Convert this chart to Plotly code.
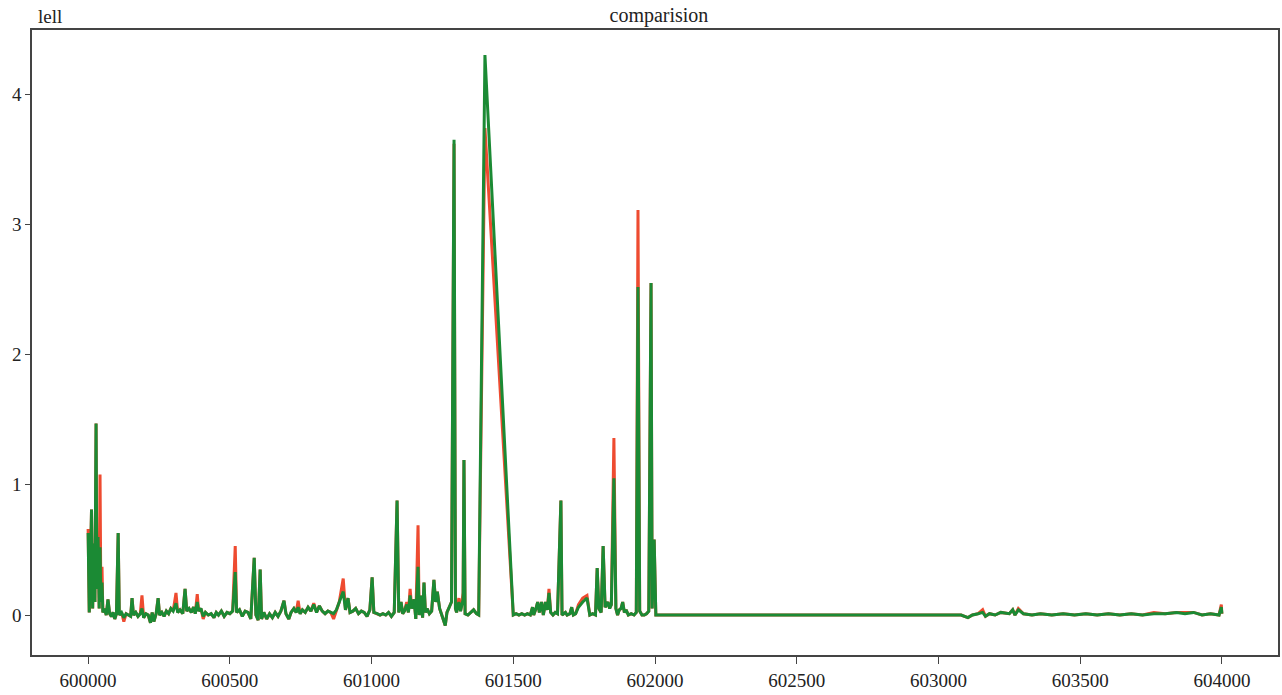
import plotly.graph_objects as go

x_vals = [
    600000, 600004, 600008, 600012, 600016, 600020, 600024, 600028, 600031, 600035,
    600039, 600042, 600045, 600049, 600052, 600058, 600064, 600070, 600076, 600082,
    600088, 600094, 600100, 600106, 600110, 600118, 600126, 600134, 600142, 600150,
    600155, 600160, 600168, 600176, 600184, 600190, 600196, 600204, 600212, 600220,
    600226, 600232, 600240, 600247, 600252, 600260, 600268, 600276, 600284, 600292,
    600300, 600310, 600316, 600324, 600334, 600342, 600348, 600356, 600364, 600372,
    600378, 600385, 600390, 600398, 600406, 600414, 600424, 600434, 600444, 600452,
    600460, 600470, 600480, 600490, 600500, 600510, 600519, 600524, 600534, 600544,
    600554, 600564, 600574, 600586, 600592, 600600, 600607, 600612, 600620, 600630,
    600640, 600650, 600660, 600670, 600680, 600691, 600698, 600708, 600716, 600726,
    600734, 600741, 600748, 600756, 600766, 600776, 600786, 600796, 600806, 600816,
    600826, 600836, 600846, 600856, 600866, 600876, 600886, 600900, 600908, 600917,
    600924, 600934, 600944, 600954, 600964, 600974, 600984, 600994, 601002, 601008,
    601020, 601030, 601040, 601050, 601060, 601070, 601080, 601090, 601096, 601104,
    601110, 601116, 601124, 601130, 601136, 601142, 601150, 601156, 601164, 601168,
    601174, 601180, 601185, 601190, 601196, 601204, 601212, 601220, 601226, 601232,
    601240, 601248, 601256, 601260, 601266, 601282, 601291, 601296, 601300, 601308,
    601314, 601323, 601326, 601330, 601340, 601350, 601360, 601370, 601378, 601400,
    601500, 601510, 601520, 601530, 601540, 601550, 601560, 601568, 601572, 601580,
    601586, 601592, 601600, 601606, 601614, 601620, 601626, 601632, 601640, 601648,
    601656, 601668, 601672, 601684, 601690, 601700, 601706, 601712, 601720, 601730,
    601745, 601760, 601770, 601780, 601790, 601796, 601802, 601810, 601817, 601824,
    601834, 601840, 601846, 601855, 601862, 601868, 601874, 601880, 601886, 601892,
    601898, 601906, 601916, 601926, 601934, 601940, 601946, 601954, 601962, 601970,
    601978, 601986, 601990, 601997, 602003, 602100, 602500, 603000, 603080, 603104,
    603120, 603140, 603156, 603166, 603180, 603200, 603220, 603250, 603262, 603270,
    603282, 603300, 603330, 603360, 603400, 603440, 603480, 603520, 603560, 603600,
    603640, 603680, 603720, 603760, 603800, 603840, 603870, 603900, 603930, 603960,
    603990, 603998, 604000,
]

green_vals = [
    0.63, 0.02, 0.35, 0.81, 0.05, 0.55, 0.10, 1.47, 0.20, 0.60,
    0.05, 0.52, 0.10, 0.25, 0.02, 0.05, 0.00, 0.12, 0.01, -0.01,
    0.02, -0.03, 0.01, 0.63, 0.00, 0.02, -0.02, 0.01, 0.00, -0.01,
    0.13, 0.00, 0.02, -0.01, 0.01, 0.05, -0.02, 0.01, 0.00, -0.06,
    0.02, -0.05, 0.01, 0.13, 0.00, 0.02, -0.01, 0.03, 0.01, 0.05,
    0.03, 0.09, 0.02, 0.04, 0.01, 0.20, 0.03, 0.05, 0.02, 0.06,
    0.01, 0.10, 0.03, 0.05, -0.01, 0.02, 0.00, 0.01, -0.02, 0.02,
    0.00, 0.03, -0.01, 0.02, 0.01, 0.03, 0.33, 0.02, 0.04, -0.01,
    0.03, 0.02, -0.03, 0.44, 0.00, -0.04, 0.35, -0.03, 0.02, -0.03,
    0.01, -0.02, 0.02, -0.01, 0.03, 0.11, 0.01, -0.03, 0.02, 0.05,
    0.02, 0.06, 0.01, 0.04, 0.02, 0.06, 0.03, 0.08, 0.02, 0.07,
    0.03, 0.01, 0.03, 0.02, 0.01, 0.04, 0.10, 0.18, 0.04, 0.13,
    0.02, 0.03, 0.05, 0.01, 0.03, 0.02, -0.01, 0.04, 0.29, 0.02,
    0.01, 0.00, 0.01, 0.00, 0.02, -0.01, 0.02, 0.88, 0.02, 0.10,
    0.01, 0.03, 0.08, 0.02, 0.15, 0.05, 0.12, -0.03, 0.37, 0.00,
    0.15, -0.02, 0.25, 0.02, 0.05, 0.01, 0.03, 0.27, 0.10, 0.18,
    0.05, 0.00, -0.06, -0.08, 0.02, 0.10, 3.65, 0.05, 0.02, 0.10,
    0.03, 0.12, 1.19, 0.01, 0.00, 0.02, 0.04, 0.01, 0.00, 4.30,
    0.00, 0.01, 0.00, 0.01, 0.00, 0.01, 0.00, 0.06, 0.00, 0.05,
    0.10, 0.02, 0.10, 0.00, 0.10, 0.04, 0.17, 0.02, 0.00, 0.02,
    0.01, 0.88, 0.00, 0.02, 0.00, 0.01, 0.06, 0.00, 0.01, 0.06,
    0.10, 0.13, 0.00, 0.01, 0.00, 0.36, 0.05, 0.02, 0.53, 0.06,
    0.10, 0.05, 0.08, 1.05, 0.05, 0.00, 0.04, 0.05, 0.10, 0.02,
    0.04, 0.00, 0.01, 0.00, 0.02, 2.52, 0.03, 0.00, 0.00, 0.01,
    0.03, 2.55, 0.05, 0.58, 0.00, 0.00, 0.00, 0.00, 0.00, -0.02,
    0.00, 0.01, 0.02, -0.01, 0.01, 0.00, 0.02, 0.01, 0.04, 0.00,
    0.04, 0.01, 0.00, 0.01, 0.00, 0.01, 0.00, 0.01, 0.00, 0.01,
    0.00, 0.01, 0.00, 0.01, 0.01, 0.02, 0.01, 0.02, 0.00, 0.01,
    0.00, 0.06, 0.01,
]

red_vals = [
    0.66, 0.02, 0.35, 0.81, 0.05, 0.55, 0.10, 1.47, 0.20, 0.60,
    0.05, 1.08, 0.10, 0.37, 0.02, 0.05, 0.00, 0.12, 0.01, -0.01,
    0.02, -0.03, 0.01, 0.63, 0.00, 0.02, -0.05, 0.01, 0.00, -0.01,
    0.13, 0.00, 0.02, -0.01, 0.01, 0.15, -0.02, 0.01, 0.00, -0.06,
    0.02, -0.05, 0.01, 0.13, 0.00, 0.02, -0.01, 0.03, 0.01, 0.05,
    0.03, 0.17, 0.02, 0.04, 0.01, 0.20, 0.03, 0.05, 0.02, 0.06,
    0.01, 0.16, 0.03, 0.05, -0.03, 0.02, 0.00, 0.01, -0.02, 0.02,
    0.00, 0.03, -0.01, 0.02, 0.01, 0.03, 0.53, 0.02, 0.04, -0.01,
    0.03, 0.02, -0.03, 0.44, 0.00, -0.04, 0.35, -0.03, 0.02, -0.03,
    0.01, -0.02, 0.02, -0.01, 0.03, 0.11, 0.01, -0.03, 0.02, 0.05,
    0.02, 0.11, 0.01, 0.04, 0.02, 0.06, 0.03, 0.09, 0.02, 0.07,
    0.03, 0.01, 0.03, 0.02, -0.03, 0.04, 0.10, 0.28, 0.04, 0.13,
    0.02, 0.03, 0.05, 0.01, 0.03, 0.02, -0.01, 0.04, 0.29, 0.02,
    0.01, 0.00, 0.01, 0.00, 0.02, -0.01, 0.02, 0.88, 0.02, 0.10,
    0.01, 0.03, 0.10, 0.02, 0.20, 0.05, 0.12, -0.03, 0.69, 0.00,
    0.15, -0.02, 0.25, 0.02, 0.05, 0.01, 0.03, 0.27, 0.10, 0.18,
    0.05, 0.00, -0.06, -0.08, 0.02, 0.10, 3.62, 0.05, 0.02, 0.13,
    0.03, 0.17, 1.19, 0.01, 0.00, 0.02, 0.04, 0.01, 0.00, 3.74,
    0.00, 0.01, 0.00, 0.01, 0.00, 0.01, 0.00, 0.06, 0.00, 0.05,
    0.10, 0.02, 0.10, 0.00, 0.10, 0.04, 0.20, 0.02, 0.00, 0.02,
    0.01, 0.88, 0.00, 0.02, 0.00, 0.01, 0.06, 0.00, 0.01, 0.08,
    0.13, 0.15, 0.00, 0.01, 0.00, 0.36, 0.05, 0.02, 0.53, 0.06,
    0.10, 0.05, 0.08, 1.36, 0.05, 0.00, 0.04, 0.05, 0.10, 0.02,
    0.04, 0.00, 0.01, 0.00, 0.02, 3.11, 0.03, 0.00, 0.00, 0.01,
    0.03, 2.55, 0.05, 0.58, 0.00, 0.00, 0.00, 0.00, 0.00, -0.02,
    0.00, 0.01, 0.04, -0.01, 0.01, 0.00, 0.02, 0.01, 0.04, 0.00,
    0.05, 0.01, 0.00, 0.01, 0.00, 0.01, 0.00, 0.01, 0.00, 0.01,
    0.00, 0.01, 0.00, 0.02, 0.01, 0.02, 0.02, 0.02, 0.00, 0.01,
    0.00, 0.08, 0.01,
]

x_ticks = [600000, 600500, 601000, 601500, 602000, 602500, 603000, 603500, 604000]
y_ticks = [0, 1, 2, 3, 4]

FONT = "Liberation Serif, Times New Roman, serif"

fig = go.Figure()
fig.add_trace(go.Scatter(x=x_vals, y=red_vals, mode="lines",
                         line=dict(color="#ee4b30", width=3), showlegend=False))
fig.add_trace(go.Scatter(x=x_vals, y=green_vals, mode="lines",
                         line=dict(color="#1b8a34", width=3), showlegend=False))

axis_common = dict(showline=True, mirror=True, linecolor="#444444", linewidth=1.5,
                   showgrid=False, zeroline=False, ticks="outside", automargin=False,
                   tickcolor="#444444", tickfont=dict(family=FONT, size=19, color="#222222"))

fig.update_layout(
    width=1282, height=695,
    paper_bgcolor="white", plot_bgcolor="white",
    margin=dict(l=32, r=4, t=30, b=40, autoexpand=False),
    title=dict(text="comparision", x=0.514, xanchor="center", y=0.988, yanchor="top",
               font=dict(family=FONT, size=20, color="#222222")),
    font=dict(family=FONT),
    xaxis=dict(range=[599802, 604198], tickvals=x_ticks,
               ticktext=[str(v) for v in x_ticks], ticklen=7, **axis_common),
    yaxis=dict(range=[-0.307, 4.493], tickvals=y_ticks, ticklen=5, **axis_common),
    annotations=[dict(text="lell", xref="paper", yref="paper", x=0.0, y=1.0,
                      xanchor="left", yanchor="bottom", xshift=4, yshift=1, showarrow=False,
                      font=dict(family=FONT, size=19, color="#222222"))],
)

fig.write_html("out.html", config={"displayModeBar": False},
               post_script="document.body.style.margin='0';document.body.style.padding='0';document.body.style.overflow='hidden';")
